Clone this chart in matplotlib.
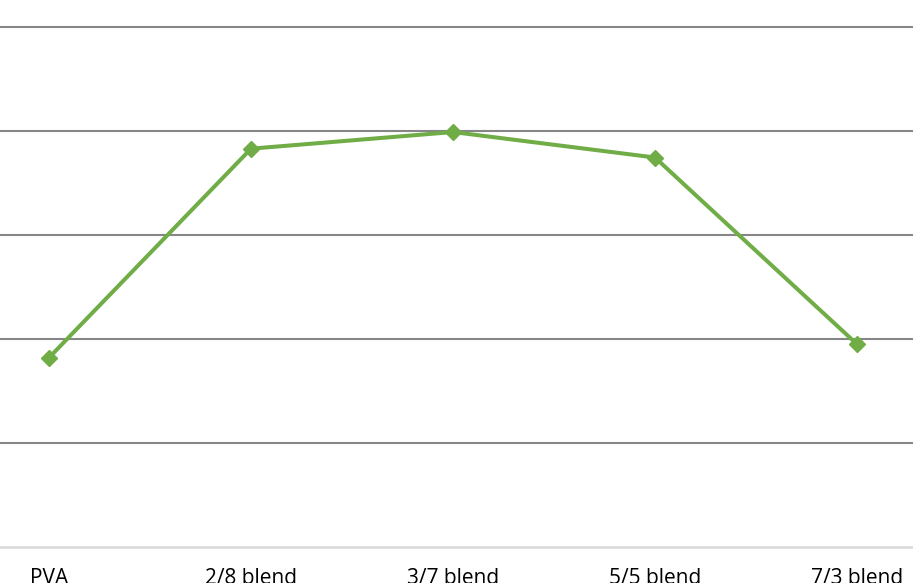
import matplotlib.pyplot as plt

categories = ["PVA", "2/8 blend", "3/7 blend", "5/5 blend", "7/3 blend"]
values = [1.82, 3.83, 3.99, 3.745, 1.95]
grid_levels = [1, 2, 3, 4, 5]

W, H = 913, 583
fig = plt.figure(figsize=(W / 100, H / 100), dpi=100)

# axes run past the picture edges, as in the cropped original
x0, x1 = -52, 958     # pixel positions of x = -0.5 and 4.5
y_axis, y_top = 547, 0
ax = fig.add_axes([x0 / W, (H - y_axis) / H, (x1 - x0) / W, (y_axis - y_top) / H])
ax.set_xlim(-0.5, 4.5)
ax.set_ylim(0, 547 / 104)

for g in grid_levels:
    ax.axhline(g, color="#868686", lw=1.5, zorder=1)

ax.plot(range(len(categories)), values, color="#70AD47", lw=2.9,
        marker="D", ms=8.5, zorder=3)

for s in ["top", "left", "right"]:
    ax.spines[s].set_visible(False)
ax.spines["bottom"].set_color("#D9D9D9")
ax.spines["bottom"].set_linewidth(1.8)

ax.set_xticks(range(len(categories)))
ax.set_xticklabels(categories, fontsize=15, family="Open Sans")
ax.tick_params(axis="x", length=0, pad=15)
ax.set_yticks([])

fig.savefig("out.png", dpi=100)
